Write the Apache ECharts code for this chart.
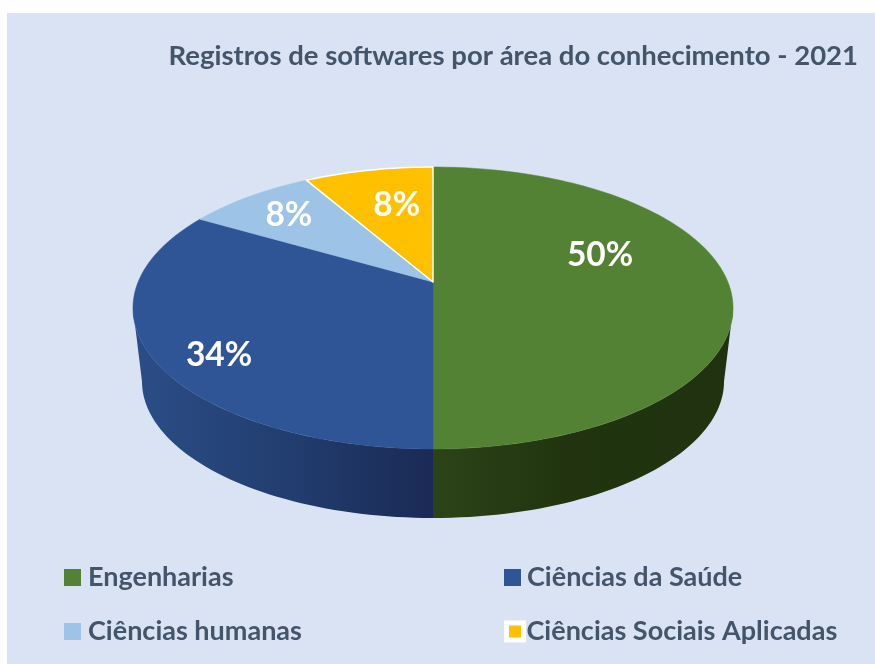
<!DOCTYPE html>
<html>
<head>
<meta charset="utf-8">
<title>Registros de softwares</title>
<script src="https://cdn.jsdelivr.net/npm/echarts@6/dist/echarts.min.js"></script>
<style>
    html, body {margin: 0; padding: 0; background: #fff;}
    #chart {width: 875px; height: 664px;}
</style>
</head>
<body>
<div id="chart"></div>
<script>
var categories = ['Engenharias', 'Ciências da Saúde', 'Ciências humanas', 'Ciências Sociais Aplicadas'];
// slice sizes (share of the circle)
var sliceShares = [50, 33.4, 8.3, 8.3];
// printed labels
var percentLabels = ['50%', '34%', '8%', '8%'];
var sliceColors = ['#548235', '#2f5597', '#9dc3e6', '#ffc000'];

var FONT = 'Lato';
var TEXT_COLOR = '#44546a';

// disc geometry, k is the perspective strength
var cx = 433, cy = 282;
var k = 0.1844, A = 294.9, B = 136.2;
var depth = 74, bottomScale = 0.97;

// where each label sits on the disc (clock angle in degrees, fraction of radius)
var labelAngle = [69.4, 234.3, 316, 348];
var labelRadius = [0.63, 0.815, 0.776, 0.664];

var sideGradients = [
    [[0, '#2c4319'], [0.45, '#21340f'], [1, '#20320f']],
    [[0, '#2b4d87'], [0.5, '#223e70'], [1, '#1a2a55']]
];
var sideExtent = [[433, 733], [133, 433]];

function project(deg, r) {
    var a = deg * Math.PI / 180;
    var u = r * Math.sin(a), v = -r * Math.cos(a);
    var w = 1 - k * v;
    return [A * u / w, B * v / w];
}
function topPoint(deg, r) {
    var p = project(deg, r);
    return [cx + p[0], cy + p[1]];
}
function bottomPoint(deg) {
    var p = project(deg, 1);
    return [cx + p[0] * bottomScale, cy + depth + p[1] * bottomScale];
}
function arcAngles(from, to) {
    var list = [];
    var n = Math.max(2, Math.ceil((to - from) / 1.5));
    for (var i = 0; i <= n; i++) {
        list.push(from + (to - from) * i / n);
    }
    return list;
}

var total = sliceShares.reduce(function (s, v) {return s + v;}, 0);
var startAngles = [];
sliceShares.reduce(function (s, v, i) {
    startAngles[i] = s;
    return s + v / total * 360;
}, 0);

// rim is only seen where the disc faces the viewer
var rimFrom = Math.acos(-k) * 180 / Math.PI;
var rimTo = 360 - rimFrom;

function makeSlice(index) {
    return function (params, api) {
        var from = startAngles[index];
        var to = from + api.value(0) / total * 360;
        var children = [];
        var sideFrom = Math.max(from, rimFrom), sideTo = Math.min(to, rimTo);
        if (sideFrom < sideTo && sideGradients[index]) {
            var angles = arcAngles(sideFrom, sideTo);
            var side = angles.map(function (d) {return topPoint(d, 1);})
                .concat(angles.slice().reverse().map(bottomPoint));
            children.push({
                type: 'polygon',
                shape: {points: side},
                style: {
                    fill: new echarts.graphic.LinearGradient(
                        sideExtent[index][0], 0, sideExtent[index][1], 0,
                        sideGradients[index].map(function (s) {return {offset: s[0], color: s[1]};}),
                        true
                    )
                }
            });
        }
        var top = [[cx, cy]].concat(arcAngles(from, to).map(function (d) {return topPoint(d, 1);}));
        var isPicked = index === 3;
        children.push({
            type: 'polygon',
            shape: {points: top},
            style: {
                fill: sliceColors[index],
                stroke: isPicked ? '#fff' : sliceColors[index],
                lineWidth: isPicked ? 1.5 : 0.5,
                lineJoin: 'round'
            }
        });
        var spot = topPoint(labelAngle[index], labelRadius[index]);
        children.push({
            type: 'text',
            x: spot[0],
            y: spot[1] + 2,
            z2: 10,
            style: {
                text: percentLabels[index],
                fill: '#fff',
                font: 'bold 33.5px ' + FONT,
                align: 'center',
                verticalAlign: 'middle'
            }
        });
        return {type: 'group', children: children};
    };
}

var legendLeft = [64, 504, 64, 504];
var legendTop = [564, 564, 618, 618];
var legendTextGap = [2, 1, 2, -2];

var myChart = echarts.init(document.getElementById('chart'), null, {renderer: 'canvas'});
myChart.setOption({
    animation: false,
    graphic: [{
        type: 'rect',
        z: -1,
        shape: {x: 7, y: 13, width: 868, height: 651},
        style: {fill: '#dae3f3'}
    }],
    title: {
        text: 'Registros de softwares por área do conhecimento - 2021',
        right: 12,
        top: 37,
        textStyle: {color: TEXT_COLOR, fontFamily: FONT, fontWeight: 'bold', fontSize: 27.5}
    },
    legend: categories.map(function (name, i) {
        return {
            data: [i === 3
                ? {name: name, itemStyle: {color: sliceColors[i], borderColor: '#fff', borderWidth: 5}}
                : {name: name, itemStyle: {color: sliceColors[i]}}],
            left: legendLeft[i],
            top: legendTop[i],
            icon: 'rect',
            itemWidth: 17,
            itemHeight: 17,
            itemGap: 0,
            padding: 0,
            selectedMode: false,
            textStyle: {color: TEXT_COLOR, fontFamily: FONT, fontWeight: 'bold', fontSize: 27, padding: [0, 0, 0, legendTextGap[i]]}
        };
    }),
    tooltip: {show: false},
    series: categories.map(function (name, i) {
        return {
            type: 'custom',
            name: name,
            coordinateSystem: 'none',
            silent: true,
            itemStyle: {color: sliceColors[i]},
            renderItem: makeSlice(i),
            encode: {value: 0},
            data: [[sliceShares[i]]]
        };
    })
});
</script>
</body>
</html>
